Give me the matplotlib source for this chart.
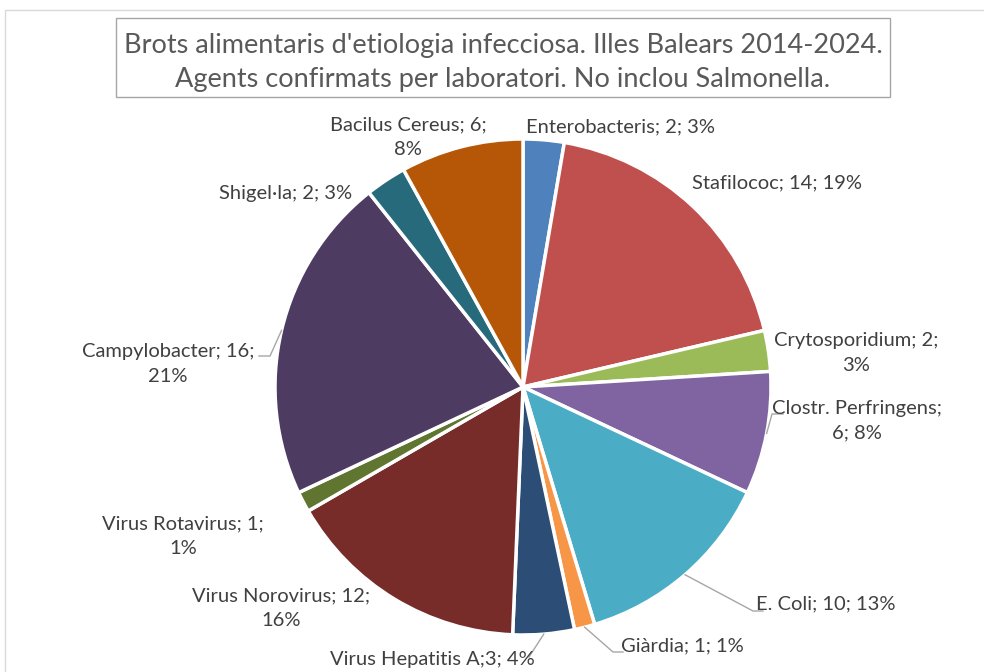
import matplotlib.pyplot as plt
import numpy as np
from matplotlib.patches import Rectangle

agents = ['Enterobacteris', 'Stafilococ', 'Crytosporidium', 'Clostr. Perfringens', 'E. Coli',
          'Giàrdia', 'Virus Hepatitis A', 'Virus Norovirus', 'Virus Rotavirus', 'Campylobacter',
          'Shigel·la', 'Bacilus Cereus']
counts = [2, 14, 2, 6, 10, 1, 3, 12, 1, 16, 2, 6]
label_texts = ['Enterobacteris; 2; 3%', 'Stafilococ; 14; 19%', 'Crytosporidium; 2;\n3%',
               'Clostr. Perfringens;\n6; 8%', 'E. Coli; 10; 13%', 'Giàrdia; 1; 1%',
               'Virus Hepatitis A;3; 4%', 'Virus Norovirus; 12;\n16%', 'Virus Rotavirus; 1;\n1%',
               'Campylobacter; 16;\n21%', 'Shigel·la; 2; 3%', 'Bacilus Cereus; 6;\n8%']
colors = ['#4F81BD', '#C0504D', '#9BBB59', '#8064A2', '#4BACC6', '#F79646',
          '#2C4D75', '#772C2A', '#5F7530', '#4D3B62', '#276A7C', '#B65708']

title = "Brots alimentaris d'etiologia infecciosa. Illes Balears 2014-2024.\nAgents confirmats per laboratori. No inclou Salmonella."

# layout in pixels (y from top)
W, H = 984, 672
cx, cy, r = 523, 387, 248
label_pos = [(621, 127), (777, 183), (856, 353), (857, 421), (826, 604), (682, 646),
             (432, 659), (281, 608), (183, 536), (168, 364), (286, 194), (408, 137)]
# leader line bends (only for labels that have one)
leaders = {3: [(772, 414), (783, 414)],
           4: [(753, 611), (763, 611)],
           5: [(613, 652), (623, 652)],
           6: [(529, 657)],
           9: [(270, 356), (259, 356)]}

plt.rcParams['font.family'] = ['Lato', 'DejaVu Sans']
txt_color = '#404040'

fig = plt.figure(figsize=(W / 100, H / 100), dpi=100)
ax = fig.add_axes([0, 0, 1, 1])

wedges, _ = ax.pie(counts, colors=colors, startangle=90, counterclock=False,
                   center=(cx, H - cy), radius=r,
                   wedgeprops=dict(edgecolor='white', linewidth=2.5))
ax.set_xlim(0, W)
ax.set_ylim(0, H)
ax.set_aspect('auto')
ax.axis('off')

for i, w in enumerate(wedges):
    x, y = label_pos[i]
    ax.text(x, H - y, label_texts[i], ha='center', va='center', fontsize=14.5,
            color=txt_color, linespacing=1.55)
    if i in leaders:
        ang = np.deg2rad((w.theta1 + w.theta2) / 2)
        pts = [(cx + r * np.cos(ang), H - cy + r * np.sin(ang))]
        pts += [(px, H - py) for px, py in leaders[i]]
        pts = np.array(pts)
        ax.plot(pts[:, 0], pts[:, 1], color='#A6A6A6', lw=1.0)

# title box
ax.add_patch(Rectangle((116, H - 97), 774, 79, facecolor='white', edgecolor='#A6A6A6', lw=1.0))
ax.text(503, H - 62, title, ha='center', va='center', fontsize=19.5, color='#595959',
        linespacing=1.45)

# chart area border
ax.plot([5, 5, W], [0, H - 10, H - 10], color='#D9D9D9', lw=1.0)

fig.savefig('out.png', dpi=100)
